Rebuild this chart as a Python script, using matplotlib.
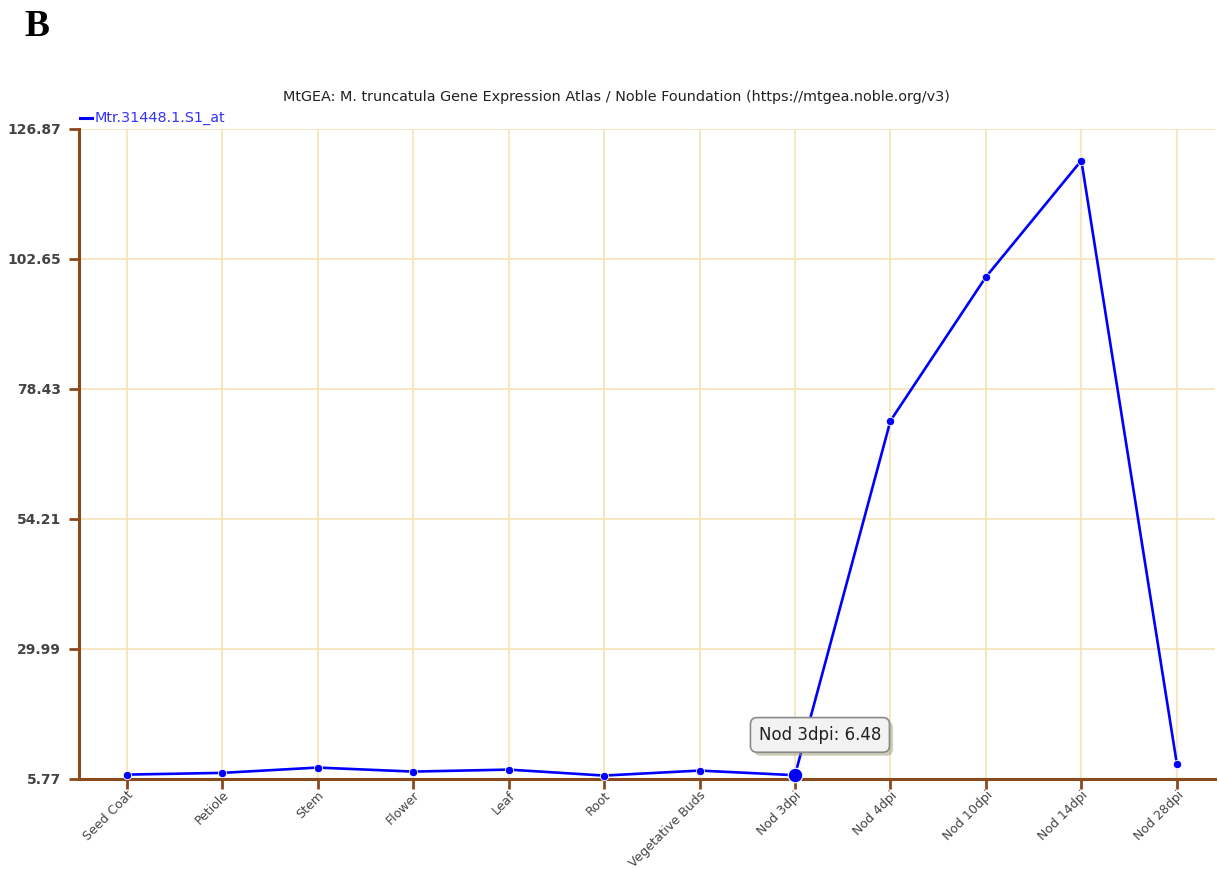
import matplotlib
matplotlib.use("Agg")
import matplotlib.pyplot as plt
import matplotlib.patheffects as pe

categories = ["Seed Coat", "Petiole", "Stem", "Flower", "Leaf", "Root",
              "Vegetative Buds", "Nod 3dpi", "Nod 4dpi", "Nod 10dpi",
              "Nod 14dpi", "Nod 28dpi"]
values = [6.59, 6.91, 7.90, 7.15, 7.52, 6.41, 7.34, 6.48, 72.5, 99.3, 121.0, 8.64]
yticks = [5.77, 29.99, 54.21, 78.43, 102.65, 126.87]
ytick_labels = ["5.77", "29.99", "54.21", "78.43", "102.65", "126.87"]
series_name = "Mtr.31448.1.S1_at"
title = "MtGEA: M. truncatula Gene Expression Atlas / Noble Foundation (https://mtgea.noble.org/v3)"
highlight_idx = 7

W, H = 1219, 869
fig = plt.figure(figsize=(W / 100, H / 100), dpi=100)
ax = fig.add_axes([79 / W, 1 - 779 / H, (1215 - 79) / W, 650 / H])

brown = "#8b4a1c"
grid_c = "#f5e3b8"
blue = "#0000ff"
x = list(range(len(categories)))

ax.set_xlim(-0.5, len(categories) - 0.6)
ax.set_ylim(yticks[0], yticks[-1])
ax.set_yticks(yticks)
ax.set_yticklabels(ytick_labels)
ax.set_xticks(x)
ax.set_xticklabels(categories, rotation=45, ha="right", va="top",
                   rotation_mode="anchor")
ax.grid(True, color=grid_c, linewidth=1.2)
ax.set_axisbelow(True)
for s in ["top", "right"]:
    ax.spines[s].set_visible(False)
for s in ["left", "bottom"]:
    ax.spines[s].set_color(brown)
    ax.spines[s].set_linewidth(2.2)
ax.tick_params(axis="both", colors=brown, width=2, length=7, direction="out")
ax.tick_params(axis="y", labelcolor="#444444", labelsize=10, pad=6)
ax.tick_params(axis="x", labelcolor="#444444", labelsize=9, pad=0)
for lab in ax.get_yticklabels():
    lab.set_fontweight("bold")

ax.plot(x, values, color=blue, linewidth=1.9, marker="o", markersize=6,
        markeredgecolor="white", markeredgewidth=0.6, clip_on=False, zorder=3)
ax.plot([x[highlight_idx]], [values[highlight_idx]], marker="o", markersize=10.5,
        color=blue, markeredgecolor="white", markeredgewidth=0.8,
        linestyle="none", clip_on=False, zorder=4)

# title and legend
fig.text(616 / W, 1 - 97 / H, title, ha="center", va="center", fontsize=10.4,
         color="#222222")
fig.add_artist(plt.Line2D([80 / W, 92 / W], [1 - 118 / H, 1 - 118 / H],
                          color=blue, linewidth=2.2))
fig.text(95 / W, 1 - 118 / H, series_name, ha="left", va="center",
         fontsize=10.4, color="#3333ff")

# panel letter
fig.text(24 / W, 1 - 26 / H, "B", ha="left", va="center", fontsize=27,
         fontweight="bold", family="Liberation Serif", color="black")

# tooltip
tip = ax.annotate(f"{categories[highlight_idx]}: {values[highlight_idx]:.2f}",
                  xy=(x[highlight_idx], values[highlight_idx]),
                  xytext=(18, 29), textcoords="offset points",
                  ha="center", va="center", fontsize=12, color="#222222",
                  bbox=dict(boxstyle="round,pad=0.5,rounding_size=0.4",
                            fc="#f2f2f2", ec="#8a8a8a", lw=1.2),
                  zorder=6)
tip.get_bbox_patch().set_path_effects([
    pe.SimplePatchShadow(offset=(2.5, -2.5), shadow_rgbFace="#9a9a70", alpha=0.5),
    pe.Normal()])

fig.savefig("out.png", dpi=100, facecolor="white")
